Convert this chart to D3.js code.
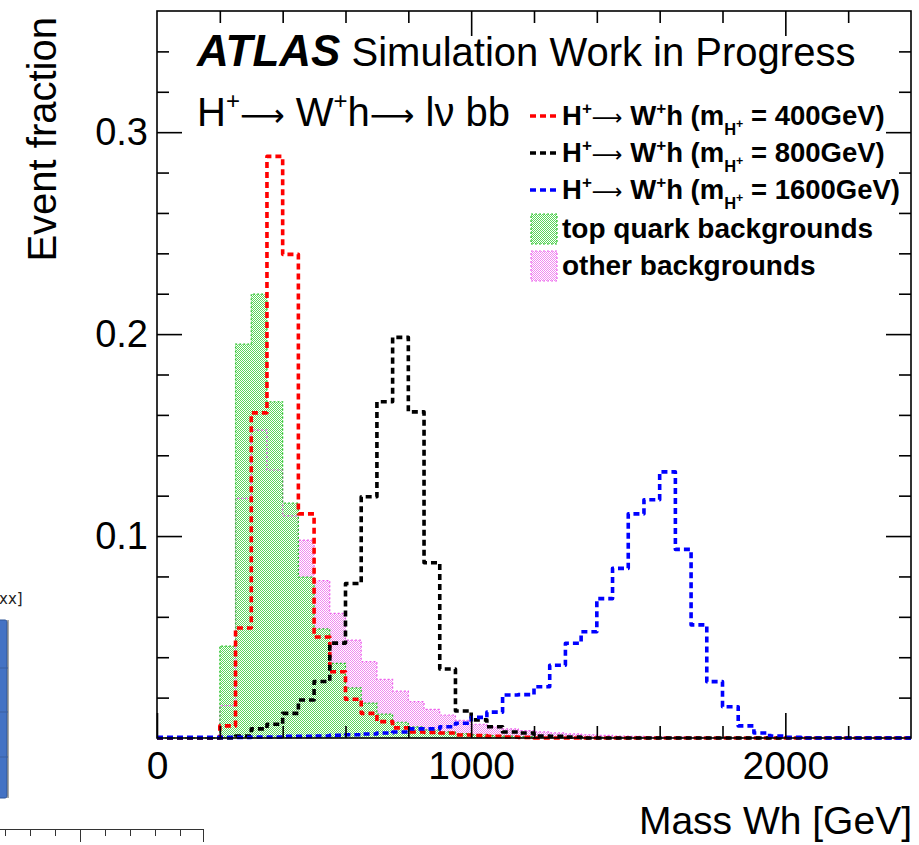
<!DOCTYPE html>
<html>
<head>
<meta charset="utf-8">
<script src="https://cdn.jsdelivr.net/npm/d3@7"></script>
<style>
  html, body { margin: 0; padding: 0; background: #fff; }
  svg { display: block; font-family: "Liberation Sans", Arial, Helvetica, sans-serif; }
</style>
</head>
<body>
<svg id="chart" width="919" height="845"></svg>
<script>
// ---------------- data ----------------
// lower edges of the 50 GeV bins
const binLow = [0,50,100,150,200,250,300,350,400,450,500,550,600,650,700,750,800,850,900,950,
  1000,1050,1100,1150,1200,1250,1300,1350,1400,1450,1500,1550,1600,1650,1700,1750,1800,1850,1900,1950,
  2000,2050,2100,2150,2200,2250,2300,2350];
const binWidth = 50;

const sig400 = [0,0,0,0,0.006,0.0545,0.161,0.288,0.2395,0.111,0.050,0.0328,0.0192,0.0122,0.0081,0.0050,
  0.0030,0.0028,0.0025,0.0015,0.0012,0.0008,0.0005,0.0003,0,0,0,0,0,0,0,0,
  0,0,0,0,0,0,0,0,0,0,0,0,0,0,0,0];
const sig800 = [0,0,0,0,0,0.001,0.0045,0.0068,0.0122,0.0188,0.028,0.047,0.0765,0.1195,0.1665,0.1984,
  0.1615,0.0868,0.0342,0.0134,0.009,0.0056,0.003,0.0025,0.001,0.0008,0.0005,0,0,0,0,0,
  0,0,0,0,0,0,0,0,0,0,0,0,0,0,0,0];
const sig1600 = [0.0003,0.0003,0.0003,0.0003,0.0003,0.0003,0.0005,0.0005,0.0008,0.0008,0.001,0.0013,0.0016,0.002,0.0025,0.003,
  0.0045,0.0045,0.0056,0.0073,0.0102,0.0128,0.0213,0.0215,0.0254,0.036,0.0469,0.0526,0.069,0.084,0.111,0.118,
  0.1318,0.0934,0.056,0.0279,0.0155,0.006,0.0025,0.001,0.0003,0,0,0,0,0,0,0];
const topBkg = [0,0,0,0,0.0455,0.195,0.2198,0.1665,0.1163,0.0797,0.054,0.037,0.0248,0.0173,0.0118,0.0078,
  0.0055,0.004,0.003,0.0022,0.0016,0.0012,0.0009,0.0007,0.0005,0.0004,0.0003,0.0002,0.0002,0.0001,0.0001,0,
  0,0,0,0,0,0,0,0,0,0,0,0,0,0,0,0];
const otherBkg = [0,0,0,0,0.016,0.1187,0.1525,0.1327,0.110,0.098,0.0779,0.0617,0.0485,0.0378,0.029,0.0232,
  0.018,0.0142,0.0114,0.0088,0.0068,0.0055,0.0045,0.0037,0.003,0.0025,0.002,0.0016,0.0013,0.001,0.0008,0.0006,
  0.0005,0.0004,0.0003,0.0002,0.0002,0.0001,0,0,0,0,0,0,0,0,0,0];

const xMajorTicks = [0, 1000, 2000];
const xMinorTicks = [200,400,600,800,1200,1400,1600,1800,2200];
const yMajorTicks = [0.1, 0.2, 0.3];
const yMinorTicks = [0.02,0.04,0.06,0.08,0.12,0.14,0.16,0.18,0.22,0.24,0.26,0.28,0.32,0.34];

const legendLabels = ["400GeV", "800GeV", "1600GeV"];
const bkgLabels = ["top quark backgrounds", "other backgrounds"];

// ---------------- setup ----------------
const svg = d3.select("#chart");
const L = 157, R = 911, T = 11, B = 738;
const x = d3.scaleLinear().domain([0, 2400]).range([L, R]);
const y = d3.scaleLinear().domain([0, 0.36]).range([B, T]);

const defs = svg.append("defs");
function checker(id, color) {
  const p = defs.append("pattern").attr("id", id).attr("width", 2).attr("height", 2)
    .attr("patternUnits", "userSpaceOnUse");
  p.append("rect").attr("x", 0).attr("y", 0).attr("width", 1).attr("height", 1).attr("fill", color).attr("shape-rendering", "crispEdges");
  p.append("rect").attr("x", 1).attr("y", 1).attr("width", 1).attr("height", 1).attr("fill", color).attr("shape-rendering", "crispEdges");
}
checker("patGreen", "#5cd65c");
checker("patPink", "#f08af0");

defs.append("clipPath").attr("id", "plotClip").append("rect")
  .attr("x", L).attr("y", T).attr("width", R - L).attr("height", B - T + 2);

// ---------------- background fragment on the left ----------------
const frag = svg.append("g");
frag.append("text").attr("x", -1).attr("y", 604).attr("font-size", 15)
  .attr("font-family", "DejaVu Sans, sans-serif").attr("fill", "#222").text("xx]");
frag.append("rect").attr("x", -4).attr("y", 620).attr("width", 11).attr("height", 178)
  .attr("rx", 2).attr("fill", "#4472c4").attr("stroke", "#2f5597").attr("stroke-width", 1);
frag.append("line").attr("x1", 8).attr("x2", 8).attr("y1", 620).attr("y2", 798).attr("stroke", "#555").attr("stroke-width", 1);
[668, 712, 757].forEach(v => frag.append("line").attr("x1", 0).attr("x2", 8).attr("y1", v).attr("y2", v).attr("stroke", "#3a5f9f"));
frag.append("line").attr("x1", 0).attr("x2", 204).attr("y1", 829.5).attr("y2", 829.5).attr("stroke", "#333").attr("stroke-width", 1);
[5, 30, 55, 80, 105, 130, 155, 180, 203].forEach((v, i) =>
  frag.append("line").attr("x1", v + 0.5).attr("x2", v + 0.5).attr("y1", 829).attr("y2", (i === 3 || i === 8) ? 842 : 836)
    .attr("stroke", "#333").attr("stroke-width", 1));

// ---------------- histograms ----------------
function pts(vals) {
  const p = binLow.map((e, i) => [e, vals[i]]);
  p.push([binLow[binLow.length - 1] + binWidth, vals[vals.length - 1]]);
  return p;
}
const stepLine = d3.line().x(d => x(d[0])).y(d => y(d[1])).curve(d3.curveStepAfter);
const stepArea = d3.area().x(d => x(d[0])).y0(y(0)).y1(d => y(d[1])).curve(d3.curveStepAfter);

const plot = svg.append("g").attr("clip-path", "url(#plotClip)");

plot.append("path").attr("d", stepArea(pts(otherBkg))).attr("fill", "url(#patPink)");
plot.append("path").attr("d", stepArea(pts(topBkg))).attr("fill", "url(#patGreen)");
plot.append("path").attr("d", stepLine(pts(otherBkg))).attr("fill", "none")
  .attr("stroke", "#ee66ee").attr("stroke-width", 1.2).attr("stroke-dasharray", "2,2");
plot.append("path").attr("d", stepLine(pts(topBkg))).attr("fill", "none")
  .attr("stroke", "#2ec42e").attr("stroke-width", 1.2).attr("stroke-dasharray", "2,2");

const sigStyles = [
  { vals: sig400, color: "#ff0000" },
  { vals: sig800, color: "#000000" },
  { vals: sig1600, color: "#0000ff" }
];
sigStyles.forEach(s => {
  plot.append("path").attr("d", stepLine(pts(s.vals))).attr("fill", "none")
    .attr("stroke", s.color).attr("stroke-width", 3.6).attr("stroke-dasharray", "6,4")
    .attr("stroke-linejoin", "round");
});

// ---------------- axes ----------------
const tickColor = "#000";
function styleAxis(g) {
  g.select(".domain").remove();
  g.selectAll(".tick line").attr("stroke", tickColor).attr("stroke-width", 1.6);
}
// bottom
svg.append("g").attr("transform", `translate(0,${B})`)
  .call(d3.axisBottom(x).tickValues(xMinorTicks).tickSize(-12).tickFormat(""))
  .call(styleAxis);
svg.append("g").attr("transform", `translate(0,${B})`)
  .call(d3.axisBottom(x).tickValues(xMajorTicks).tickSize(-25).tickPadding(13).tickFormat(d3.format("d")))
  .call(styleAxis)
  .call(g => g.selectAll("text").attr("font-size", 39).attr("fill", "#000")
    .attr("font-family", "Liberation Sans, Arial, sans-serif"));
// top
svg.append("g").attr("transform", `translate(0,${T})`)
  .call(d3.axisTop(x).tickValues(xMinorTicks).tickSize(-12).tickFormat(""))
  .call(styleAxis);
svg.append("g").attr("transform", `translate(0,${T})`)
  .call(d3.axisTop(x).tickValues(xMajorTicks.slice(1)).tickSize(-25).tickFormat(""))
  .call(styleAxis);
// left
svg.append("g").attr("transform", `translate(${L},0)`)
  .call(d3.axisLeft(y).tickValues(yMinorTicks).tickSize(-12).tickFormat(""))
  .call(styleAxis);
svg.append("g").attr("transform", `translate(${L},0)`)
  .call(d3.axisLeft(y).tickValues(yMajorTicks).tickSize(-25).tickPadding(9).tickFormat(d3.format(".1f")))
  .call(styleAxis)
  .call(g => g.selectAll("text").attr("font-size", 38).attr("fill", "#000")
    .attr("font-family", "Liberation Sans, Arial, sans-serif"));
// right
svg.append("g").attr("transform", `translate(${R},0)`)
  .call(d3.axisRight(y).tickValues(yMinorTicks).tickSize(-12).tickFormat(""))
  .call(styleAxis);
svg.append("g").attr("transform", `translate(${R},0)`)
  .call(d3.axisRight(y).tickValues(yMajorTicks).tickSize(-25).tickFormat(""))
  .call(styleAxis);

// frame
svg.append("rect").attr("x", L).attr("y", T).attr("width", R - L).attr("height", B - T)
  .attr("fill", "none").attr("stroke", "#000").attr("stroke-width", 1.6);

// axis titles
svg.append("text").attr("transform", `translate(56,17) rotate(-90)`)
  .attr("text-anchor", "end").attr("font-size", 40).text("Event fraction");
svg.append("text").attr("x", 912).attr("y", 834).attr("text-anchor", "end")
  .attr("font-size", 39).text("Mass Wh [GeV]");

// ---------------- rich text helper ----------------
function rich(x0, y0, size, weight, segs) {
  const t = svg.append("text").attr("x", x0).attr("y", y0).attr("font-size", size)
    .attr("font-weight", weight).attr("fill", "#000");
  let cur = 0;
  segs.forEach(s => {
    const sh = (s.shift || 0) * size;
    const ts = t.append("tspan").attr("dy", sh - cur).text(s.t)
      .attr("font-size", (s.scale || 1) * size);
    if (s.weight) ts.attr("font-weight", s.weight);
    if (s.italic) ts.attr("font-style", "italic");
    if (s.family) ts.attr("font-family", s.family);
    cur = sh;
  });
  return t;
}
const ARROW = { t: "\u27f6", weight: "normal", family: "DejaVu Sans, sans-serif", scale: 0.78, shift: 0.0 };

// title
rich(197, 66, 40, "normal", [
  { t: "ATLAS", weight: "bold", italic: true, scale: 1.1 },
  { t: " Simulation Work in Progress" }
]);
rich(197, 126, 40, "normal", [
  { t: "H" }, { t: "+", scale: 0.6, shift: -0.42 },
  ARROW, { t: " W" }, { t: "+", scale: 0.6, shift: -0.42 },
  { t: "h" }, ARROW, { t: " l\u03bd bb" }
]);

// legend
const legY = [125, 162, 199];
sigStyles.forEach((s, i) => {
  svg.append("line").attr("x1", 530).attr("x2", 557).attr("y1", legY[i] - 9).attr("y2", legY[i] - 9)
    .attr("stroke", s.color).attr("stroke-width", 3.6).attr("stroke-dasharray", "6,4");
  rich(562, legY[i], 27.5, "bold", [
    { t: "H" }, { t: "+", scale: 0.62, shift: -0.4 },
    ARROW, { t: " W" }, { t: "+", scale: 0.62, shift: -0.4 },
    { t: "h (m" }, { t: "H", scale: 0.6, shift: 0.36 }, { t: "+", scale: 0.45, shift: 0.1 },
    { t: " = " + legendLabels[i] + ")" }
  ]);
});
const bkgY = [238, 275];
const bkgFill = [["url(#patGreen)", "#2ec42e"], ["url(#patPink)", "#ee66ee"]];
bkgLabels.forEach((lab, i) => {
  svg.append("rect").attr("x", 531).attr("y", bkgY[i] - 24).attr("width", 26).attr("height", 30)
    .attr("fill", bkgFill[i][0]).attr("stroke", bkgFill[i][1]).attr("stroke-width", 1.2).attr("stroke-dasharray", "2,2");
  svg.append("text").attr("x", 562).attr("y", bkgY[i]).attr("font-size", 28).attr("font-weight", "bold").text(lab);
});
</script>
</body>
</html>
